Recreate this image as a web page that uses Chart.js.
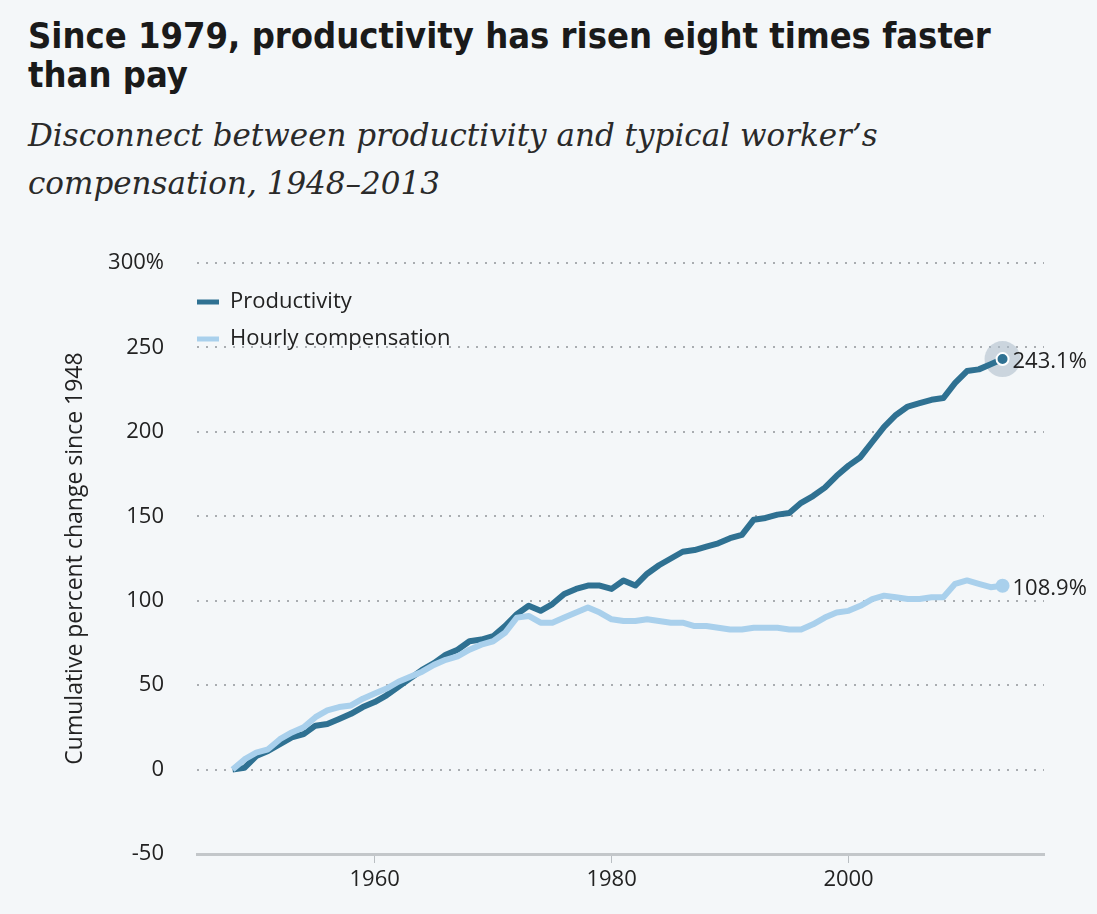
<!DOCTYPE html>
<html>
<head>
<meta charset="utf-8">
<script src="https://cdn.jsdelivr.net/npm/chart.js@4.4.1/dist/chart.umd.min.js"></script>
<style>
  html, body { margin: 0; padding: 0; background: #f4f7f9; }
  body { width: 1097px; height: 914px; position: relative; overflow: hidden; }
  #title { position: absolute; left: 28px; top: 16px; font-family: "Liberation Sans Narrow", "DejaVu Sans Condensed", sans-serif; font-weight: bold; font-size: 36px; line-height: 39px; color: #1a1a1a; }
  #subtitle { position: absolute; left: 28px; top: 111px; font-family: "DejaVu Serif", serif; font-style: italic; font-size: 31px; line-height: 48px; color: #2a2a2a; }
  #wrap { position: absolute; left: 0; top: 0; width: 1097px; height: 914px; }
</style>
</head>
<body>
<div id="title">Since 1979, productivity has risen eight times faster<br>than pay</div>
<div id="subtitle">Disconnect between productivity and typical worker’s<br>compensation, 1948–2013</div>
<div id="wrap"><canvas id="c" width="1097" height="914"></canvas></div>
<script>
const years = [];
for (let y = 1948; y <= 2013; y++) years.push(y);

const productivity = [
  0, 1, 8, 11, 15, 19, 21, 26, 27, 30,
  33, 37, 40, 44, 49, 54, 59, 63, 68, 71,
  76, 77, 79, 85, 92, 97, 94, 98, 104, 107,
  109, 109, 107, 112, 109, 116, 121, 125, 129, 130,
  132, 134, 137, 139, 148, 149, 151, 152, 158, 162,
  167, 174, 180, 185, 194, 203, 210, 215, 217, 219,
  220, 229, 236, 237, 240, 243.1
];
const compensation = [
  0, 6, 10, 12, 18, 22, 25, 31, 35, 37,
  38, 42, 45, 48, 52, 55, 58, 62, 65, 67,
  71, 74, 76, 81, 90, 91, 87, 87, 90, 93,
  96, 93, 89, 88, 88, 89, 88, 87, 87, 85,
  85, 84, 83, 83, 84, 84, 84, 83, 83, 86,
  90, 93, 94, 97, 101, 103, 102, 101, 101, 102,
  102, 110, 112, 110, 108, 108.9
];
const seriesNames = ['Productivity', 'Hourly compensation'];
const seriesColors = ['#2f7192', '#a9d0ec'];
const xTicks = [1960, 1980, 2000];
const yTicks = [-50, 0, 50, 100, 150, 200, 250, 300];
const endLabels = ['243.1%', '108.9%'];

const FONT = '"Open Sans", sans-serif';
const last = years.length - 1;

const toPts = vals => years.map((y, i) => ({ x: y, y: vals[i] }));

const overlay = {
  id: 'overlay',
  beforeDatasetsDraw(chart) {
    const ctx = chart.ctx;
    const p = chart.getDatasetMeta(0).data[last];
    ctx.save();
    ctx.beginPath();
    ctx.arc(p.x, p.y, 18, 0, Math.PI * 2);
    ctx.fillStyle = 'rgba(170,185,200,0.55)';
    ctx.fill();
    ctx.restore();
  },
  afterDatasetsDraw(chart) {
    const ctx = chart.ctx;
    const ca = chart.chartArea;
    ctx.save();
    ctx.font = '22px ' + FONT;
    ctx.textBaseline = 'middle';
    ctx.fillStyle = '#222';
    chart.data.datasets.forEach((ds, i) => {
      const y = ca.top + 39 + i * 37;
      ctx.strokeStyle = ds.borderColor;
      ctx.lineWidth = 5;
      ctx.beginPath();
      ctx.moveTo(ca.left, y);
      ctx.lineTo(ca.left + 22, y);
      ctx.stroke();
      ctx.fillText(ds.label, ca.left + 33, y);
    });
    chart.data.datasets.forEach((ds, i) => {
      const p = chart.getDatasetMeta(i).data[last];
      ctx.fillStyle = '#222';
      ctx.fillText(endLabels[i], p.x + 10, p.y + 3);
    });
    ctx.restore();
  }
};

new Chart(document.getElementById('c'), {
  type: 'line',
  data: {
    datasets: [
      {
        label: seriesNames[0],
        data: toPts(productivity),
        order: 1,
        borderColor: seriesColors[0],
        backgroundColor: seriesColors[0],
        borderWidth: 6,
        tension: 0,
        borderJoinStyle: 'round',
        pointRadius: ctx => ctx.dataIndex === last ? 6 : 0,
        pointBorderColor: '#ffffff',
        pointBorderWidth: 2,
        pointBackgroundColor: seriesColors[0],
        clip: false
      },
      {
        label: seriesNames[1],
        data: toPts(compensation),
        order: 0,
        borderColor: seriesColors[1],
        backgroundColor: seriesColors[1],
        borderWidth: 6,
        tension: 0,
        borderJoinStyle: 'round',
        pointRadius: ctx => ctx.dataIndex === last ? 7 : 0,
        pointBorderWidth: 0,
        pointBackgroundColor: seriesColors[1],
        clip: false
      }
    ]
  },
  options: {
    responsive: false,
    animation: false,
    events: [],
    layout: { padding: { top: 263, right: 53, left: 0, bottom: 0 } },
    plugins: { legend: { display: false }, tooltip: { enabled: false } },
    scales: {
      x: {
        type: 'linear',
        min: 1945,
        max: 2016.5,
        afterBuildTicks: s => { s.ticks = xTicks.map(v => ({ value: v })); },
        afterFit: s => { s.height = 60; },
        ticks: { font: { family: FONT, size: 22 }, color: '#222', padding: 4, callback: v => String(v) },
        grid: { drawOnChartArea: false, drawTicks: true, tickLength: 9, color: '#b9bec2', lineWidth: 1 },
        border: { display: true, color: '#c3c7ca', width: 3 }
      },
      y: {
        min: -50,
        max: 300,
        afterBuildTicks: s => { s.ticks = yTicks.map(v => ({ value: v })); },
        afterFit: s => { s.width = 197; },
        ticks: { font: { family: FONT, size: 22 }, color: '#222', padding: 33, callback: v => v === 300 ? '300%' : String(v) },
        grid: { drawTicks: false, color: ctx => ctx.tick && ctx.tick.value === -50 ? 'rgba(0,0,0,0)' : '#a9adb1', lineWidth: 2 },
        border: { display: false, dash: [2, 7] },
        title: { display: true, text: 'Cumulative percent change since 1948', font: { family: FONT, size: 23 }, color: '#222', padding: { top: 62, bottom: 0 } }
      }
    }
  },
  plugins: [overlay]
});
</script>
</body>
</html>
